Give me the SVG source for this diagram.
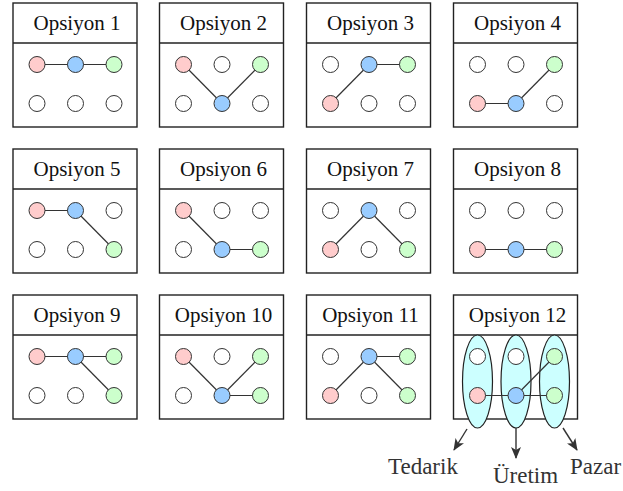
<svg xmlns="http://www.w3.org/2000/svg" width="623" height="491" viewBox="0 0 623 491">
<style>
.box{fill:#fff;stroke:#222;stroke-width:1.4}
.e{stroke:#333;stroke-width:1.2;fill:none}
.n{stroke:#333;stroke-width:1}
.w{fill:#fff}.r{fill:#ffcccc}.b{fill:#99ccff}.g{fill:#ccffcc}
.ell{fill:#ccffff;stroke:#222;stroke-width:1.2}
.arr{stroke:#333;stroke-width:1.4;fill:none;marker-end:url(#ah)}
</style>
<defs>
<marker id="ah" viewBox="0 0 12 10" refX="11" refY="5" markerWidth="12" markerHeight="10" markerUnits="userSpaceOnUse" orient="auto">
<path d="M0,0 L12,5 L0,10 L3,5 Z" fill="#333"/>
</marker>
</defs>

<g id="panel1" transform="translate(13,3)">
<rect class="box" x="0" y="0" width="124" height="124"/><line class="box" x1="0" y1="40" x2="124" y2="40"/>
<text x="64" y="27" font-family="Liberation Serif" font-size="21" fill="#111" text-anchor="middle" style="font-family:'Liberation Serif'">Opsiyon 1</text>
<g class="connectors"><line class="e" x1="24" y1="61.5" x2="62.5" y2="61.5"/><line class="e" x1="62.5" y1="61.5" x2="101" y2="61.5"/></g>
<circle class="n r" cx="24" cy="61.5" r="8"/><circle class="n b" cx="62.5" cy="61.5" r="8"/><circle class="n g" cx="101" cy="61.5" r="8"/>
<circle class="n w" cx="24" cy="100.5" r="8"/><circle class="n w" cx="62.5" cy="100.5" r="8"/><circle class="n w" cx="101" cy="100.5" r="8"/>
</g>

<g id="panel2" transform="translate(159.5,3)">
<rect class="box" x="0" y="0" width="124" height="124"/><line class="box" x1="0" y1="40" x2="124" y2="40"/>
<text x="64" y="27" font-family="Liberation Serif" font-size="21" fill="#111" text-anchor="middle" style="font-family:'Liberation Serif'">Opsiyon 2</text>
<g class="connectors"><line class="e" x1="24" y1="61.5" x2="62.5" y2="100.5"/><line class="e" x1="62.5" y1="100.5" x2="101" y2="61.5"/></g>
<circle class="n r" cx="24" cy="61.5" r="8"/><circle class="n w" cx="62.5" cy="61.5" r="8"/><circle class="n g" cx="101" cy="61.5" r="8"/>
<circle class="n w" cx="24" cy="100.5" r="8"/><circle class="n b" cx="62.5" cy="100.5" r="8"/><circle class="n w" cx="101" cy="100.5" r="8"/>
</g>

<g id="panel3" transform="translate(306.5,3)">
<rect class="box" x="0" y="0" width="124" height="124"/><line class="box" x1="0" y1="40" x2="124" y2="40"/>
<text x="64" y="27" font-family="Liberation Serif" font-size="21" fill="#111" text-anchor="middle" style="font-family:'Liberation Serif'">Opsiyon 3</text>
<g class="connectors"><line class="e" x1="24" y1="100.5" x2="62.5" y2="61.5"/><line class="e" x1="62.5" y1="61.5" x2="101" y2="61.5"/></g>
<circle class="n w" cx="24" cy="61.5" r="8"/><circle class="n b" cx="62.5" cy="61.5" r="8"/><circle class="n g" cx="101" cy="61.5" r="8"/>
<circle class="n r" cx="24" cy="100.5" r="8"/><circle class="n w" cx="62.5" cy="100.5" r="8"/><circle class="n w" cx="101" cy="100.5" r="8"/>
</g>

<g id="panel4" transform="translate(453.5,3)">
<rect class="box" x="0" y="0" width="124" height="124"/><line class="box" x1="0" y1="40" x2="124" y2="40"/>
<text x="64" y="27" font-family="Liberation Serif" font-size="21" fill="#111" text-anchor="middle" style="font-family:'Liberation Serif'">Opsiyon 4</text>
<g class="connectors"><line class="e" x1="24" y1="100.5" x2="62.5" y2="100.5"/><line class="e" x1="62.5" y1="100.5" x2="101" y2="61.5"/></g>
<circle class="n w" cx="24" cy="61.5" r="8"/><circle class="n w" cx="62.5" cy="61.5" r="8"/><circle class="n g" cx="101" cy="61.5" r="8"/>
<circle class="n r" cx="24" cy="100.5" r="8"/><circle class="n b" cx="62.5" cy="100.5" r="8"/><circle class="n w" cx="101" cy="100.5" r="8"/>
</g>

<g id="panel5" transform="translate(13,149)">
<rect class="box" x="0" y="0" width="124" height="124"/><line class="box" x1="0" y1="40" x2="124" y2="40"/>
<text x="64" y="27" font-family="Liberation Serif" font-size="21" fill="#111" text-anchor="middle" style="font-family:'Liberation Serif'">Opsiyon 5</text>
<g class="connectors"><line class="e" x1="24" y1="61.5" x2="62.5" y2="61.5"/><line class="e" x1="62.5" y1="61.5" x2="101" y2="100.5"/></g>
<circle class="n r" cx="24" cy="61.5" r="8"/><circle class="n b" cx="62.5" cy="61.5" r="8"/><circle class="n w" cx="101" cy="61.5" r="8"/>
<circle class="n w" cx="24" cy="100.5" r="8"/><circle class="n w" cx="62.5" cy="100.5" r="8"/><circle class="n g" cx="101" cy="100.5" r="8"/>
</g>

<g id="panel6" transform="translate(159.5,149)">
<rect class="box" x="0" y="0" width="124" height="124"/><line class="box" x1="0" y1="40" x2="124" y2="40"/>
<text x="64" y="27" font-family="Liberation Serif" font-size="21" fill="#111" text-anchor="middle" style="font-family:'Liberation Serif'">Opsiyon 6</text>
<g class="connectors"><line class="e" x1="24" y1="61.5" x2="62.5" y2="100.5"/><line class="e" x1="62.5" y1="100.5" x2="101" y2="100.5"/></g>
<circle class="n r" cx="24" cy="61.5" r="8"/><circle class="n w" cx="62.5" cy="61.5" r="8"/><circle class="n w" cx="101" cy="61.5" r="8"/>
<circle class="n w" cx="24" cy="100.5" r="8"/><circle class="n b" cx="62.5" cy="100.5" r="8"/><circle class="n g" cx="101" cy="100.5" r="8"/>
</g>

<g id="panel7" transform="translate(306.5,149)">
<rect class="box" x="0" y="0" width="124" height="124"/><line class="box" x1="0" y1="40" x2="124" y2="40"/>
<text x="64" y="27" font-family="Liberation Serif" font-size="21" fill="#111" text-anchor="middle" style="font-family:'Liberation Serif'">Opsiyon 7</text>
<g class="connectors"><line class="e" x1="24" y1="100.5" x2="62.5" y2="61.5"/><line class="e" x1="62.5" y1="61.5" x2="101" y2="100.5"/></g>
<circle class="n w" cx="24" cy="61.5" r="8"/><circle class="n b" cx="62.5" cy="61.5" r="8"/><circle class="n w" cx="101" cy="61.5" r="8"/>
<circle class="n r" cx="24" cy="100.5" r="8"/><circle class="n w" cx="62.5" cy="100.5" r="8"/><circle class="n g" cx="101" cy="100.5" r="8"/>
</g>

<g id="panel8" transform="translate(453.5,149)">
<rect class="box" x="0" y="0" width="124" height="124"/><line class="box" x1="0" y1="40" x2="124" y2="40"/>
<text x="64" y="27" font-family="Liberation Serif" font-size="21" fill="#111" text-anchor="middle" style="font-family:'Liberation Serif'">Opsiyon 8</text>
<g class="connectors"><line class="e" x1="24" y1="100.5" x2="62.5" y2="100.5"/><line class="e" x1="62.5" y1="100.5" x2="101" y2="100.5"/></g>
<circle class="n w" cx="24" cy="61.5" r="8"/><circle class="n w" cx="62.5" cy="61.5" r="8"/><circle class="n w" cx="101" cy="61.5" r="8"/>
<circle class="n r" cx="24" cy="100.5" r="8"/><circle class="n b" cx="62.5" cy="100.5" r="8"/><circle class="n g" cx="101" cy="100.5" r="8"/>
</g>

<g id="panel9" transform="translate(13,295)">
<rect class="box" x="0" y="0" width="124" height="124"/><line class="box" x1="0" y1="40" x2="124" y2="40"/>
<text x="64" y="27" font-family="Liberation Serif" font-size="21" fill="#111" text-anchor="middle" style="font-family:'Liberation Serif'">Opsiyon 9</text>
<g class="connectors"><line class="e" x1="24" y1="61.5" x2="62.5" y2="61.5"/><line class="e" x1="62.5" y1="61.5" x2="101" y2="61.5"/><line class="e" x1="62.5" y1="61.5" x2="101" y2="100.5"/></g>
<circle class="n r" cx="24" cy="61.5" r="8"/><circle class="n b" cx="62.5" cy="61.5" r="8"/><circle class="n g" cx="101" cy="61.5" r="8"/>
<circle class="n w" cx="24" cy="100.5" r="8"/><circle class="n w" cx="62.5" cy="100.5" r="8"/><circle class="n g" cx="101" cy="100.5" r="8"/>
</g>

<g id="panel10" transform="translate(159.5,295)">
<rect class="box" x="0" y="0" width="124" height="124"/><line class="box" x1="0" y1="40" x2="124" y2="40"/>
<text x="64" y="27" font-family="Liberation Serif" font-size="21" fill="#111" text-anchor="middle" style="font-family:'Liberation Serif'">Opsiyon 10</text>
<g class="connectors"><line class="e" x1="24" y1="61.5" x2="62.5" y2="100.5"/><line class="e" x1="62.5" y1="100.5" x2="101" y2="61.5"/><line class="e" x1="62.5" y1="100.5" x2="101" y2="100.5"/></g>
<circle class="n r" cx="24" cy="61.5" r="8"/><circle class="n w" cx="62.5" cy="61.5" r="8"/><circle class="n g" cx="101" cy="61.5" r="8"/>
<circle class="n w" cx="24" cy="100.5" r="8"/><circle class="n b" cx="62.5" cy="100.5" r="8"/><circle class="n g" cx="101" cy="100.5" r="8"/>
</g>

<g id="panel11" transform="translate(306.5,295)">
<rect class="box" x="0" y="0" width="124" height="124"/><line class="box" x1="0" y1="40" x2="124" y2="40"/>
<text x="64" y="27" font-family="Liberation Serif" font-size="21" fill="#111" text-anchor="middle" style="font-family:'Liberation Serif'">Opsiyon 11</text>
<g class="connectors"><line class="e" x1="24" y1="100.5" x2="62.5" y2="61.5"/><line class="e" x1="62.5" y1="61.5" x2="101" y2="61.5"/><line class="e" x1="62.5" y1="61.5" x2="101" y2="100.5"/></g>
<circle class="n w" cx="24" cy="61.5" r="8"/><circle class="n b" cx="62.5" cy="61.5" r="8"/><circle class="n g" cx="101" cy="61.5" r="8"/>
<circle class="n r" cx="24" cy="100.5" r="8"/><circle class="n w" cx="62.5" cy="100.5" r="8"/><circle class="n g" cx="101" cy="100.5" r="8"/>
</g>

<g id="panel12" transform="translate(453.5,295)">
<rect class="box" x="0" y="0" width="124" height="124"/><line class="box" x1="0" y1="40" x2="124" y2="40"/>
<text x="64" y="27" font-family="Liberation Serif" font-size="21" fill="#111" text-anchor="middle" style="font-family:'Liberation Serif'">Opsiyon 12</text>
<ellipse class="ell" cx="24" cy="86.5" rx="15" ry="46.5"/>
<ellipse class="ell" cx="62.5" cy="86.5" rx="15" ry="46.5"/>
<ellipse class="ell" cx="101" cy="86.5" rx="15" ry="46.5"/>
<g class="connectors"><line class="e" x1="24" y1="100.5" x2="62.5" y2="100.5"/><line class="e" x1="62.5" y1="100.5" x2="101" y2="61.5"/><line class="e" x1="62.5" y1="100.5" x2="101" y2="100.5"/></g>
<circle class="n w" cx="24" cy="61.5" r="8"/><circle class="n w" cx="62.5" cy="61.5" r="8"/><circle class="n g" cx="101" cy="61.5" r="8"/>
<circle class="n r" cx="24" cy="100.5" r="8"/><circle class="n b" cx="62.5" cy="100.5" r="8"/><circle class="n g" cx="101" cy="100.5" r="8"/>
</g>

<g id="connectors">
<line class="arr" x1="467" y1="429" x2="454" y2="450"/>
<line class="arr" x1="516" y1="428" x2="516" y2="458"/>
<line class="arr" x1="563" y1="428" x2="577" y2="450"/>
</g>

<g id="labels">
<text x="388" y="474" font-family="Liberation Serif" font-size="23" fill="#333" style="font-family:'Liberation Serif'">Tedarik</text>
<text x="493" y="483" font-family="Liberation Serif" font-size="23" fill="#333" style="font-family:'Liberation Serif'">Üretim</text>
<text x="570" y="474" font-family="Liberation Serif" font-size="23" fill="#333" style="font-family:'Liberation Serif'">Pazar</text>
</g>
</svg>
